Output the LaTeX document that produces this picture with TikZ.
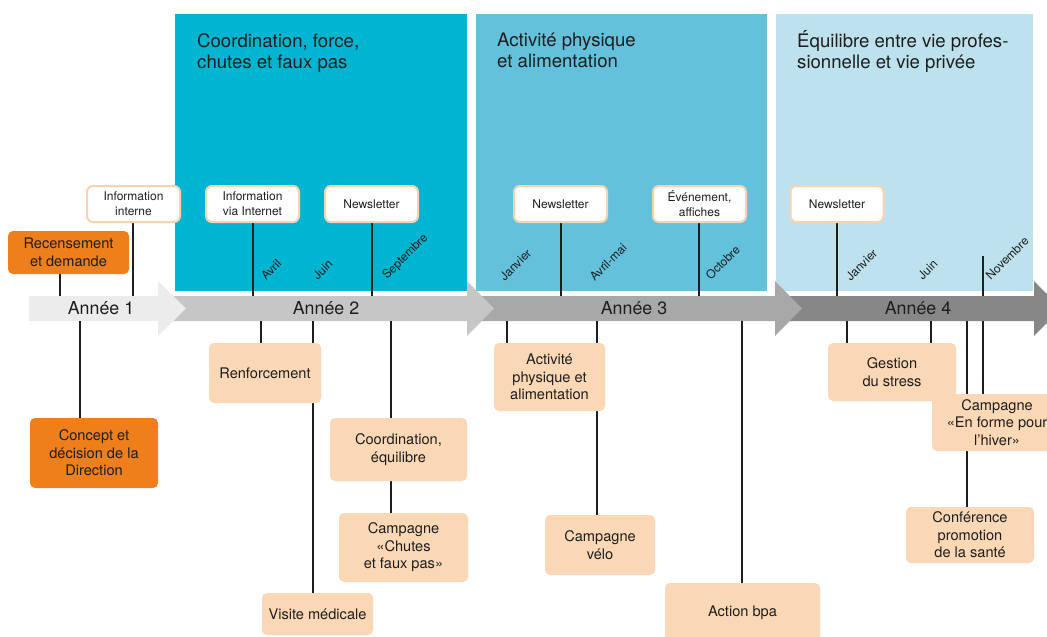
\documentclass[tikz,border=0pt]{standalone}
\usepackage{fontspec}
\setmainfont{TeX Gyre Heros}
\pgfdeclarelayer{bg}
\pgfdeclarelayer{ln}
\pgfsetlayers{bg,ln,main}
\definecolor{pA}{HTML}{00B5D1}
\definecolor{pB}{HTML}{63C1DB}
\definecolor{pC}{HTML}{BDE2ED}
\definecolor{dorange}{HTML}{EE7F1A}
\definecolor{lorange}{HTML}{FAD7B5}
\definecolor{bord}{HTML}{FAD3AD}
\definecolor{gA}{HTML}{ECECEC}
\definecolor{gB}{HTML}{C6C6C6}
\definecolor{gC}{HTML}{A8A8A8}
\definecolor{gD}{HTML}{878787}
\definecolor{txt}{HTML}{1E1E1E}
\tikzset{
  lbox/.style={rectangle, rounded corners=5pt, fill=lorange, text=txt, align=center,
    font=\fontsize{14.6}{17.6}\selectfont, inner sep=0pt},
  obox/.style={lbox, fill=dorange},
  tbox/.style={rectangle, rounded corners=6pt, fill=white, draw=bord, line width=2pt,
    align=center, text=txt, font=\fontsize{12}{15}\selectfont, inner sep=0pt,
    minimum width=93pt, minimum height=36pt},
  month/.style={rotate=45, anchor=south west, inner sep=0pt,
    font=\fontsize{12}{14}\selectfont, text=txt},
  ptitle/.style={anchor=north west, align=left, inner sep=0pt,
    font=\fontsize{18.6}{21}\selectfont, text=txt},
  year/.style={font=\fontsize{17.8}{20}\selectfont, text=txt, inner sep=0pt},
  conn/.style={draw=txt, line width=1.2pt},
}
\begin{document}
\begin{tikzpicture}[x=1pt,y=-1pt]
\clip (0,0) rectangle (1047,637);

\begin{pgfonlayer}{bg}
  \fill[white] (0,0) rectangle (1047,637);
  % theme panels
  \fill[pA] (175,14) rectangle (467,291);
  \fill[pB] (476,14) rectangle (767,291);
  \fill[pC] (776,14) rectangle (1033,291);
  % year arrows
  \fill[gD] (790,296) -- (1034,296) -- (1034,281) -- (1061,308.5) -- (1034,336) -- (1034,321) -- (790,321) -- cycle;
  \fill[gC] (480,296) -- (775,296) -- (775,281) -- (802,308.5) -- (775,336) -- (775,321) -- (480,321) -- cycle;
  \fill[gB] (165,296) -- (467,296) -- (467,281) -- (494,308.5) -- (467,336) -- (467,321) -- (165,321) -- cycle;
  \fill[gA] (29,296) -- (158,296) -- (158,281) -- (186,308.5) -- (158,336) -- (158,321) -- (29,321) -- cycle;
\end{pgfonlayer}

% panel titles
\node[ptitle] (t1) at (197,33) {Coordination, force,\\chutes et faux pas};
\node[ptitle] (t2) at (497,33) {Activité physique\\et alimentation};
\node[ptitle] (t3) at (797,30) {Équilibre entre vie profes-\\sionnelle et vie privée};

% year labels
\node[year] (y1) at (101,308.5) {Année 1};
\node[year] (y2) at (326,308.5) {Année 2};
\node[year] (y3) at (634,308.5) {Année 3};
\node[year] (y4) at (918,308.5) {Année 4};

% month labels
\node[month] (m1) at (266,281) {Avril};
\node[month] (m2) at (318,281) {Juin};
\node[month] (m3) at (389,282) {Septembre};
\node[month] (m4) at (505,282) {Janvier};
\node[month] (m5) at (595,282) {Avril-mai};
\node[month] (m6) at (711,281) {Octobre};
\node[month] (m7) at (851,282) {Janvier};
\node[month] (m8) at (923,281) {Juin};
\node[month] (m9) at (991,281) {Novembre};

% top boxes
\node[obox, minimum width=121pt, minimum height=43pt] (rec) at (68.5,252.5) {Recensement\\et demande};
\node[tbox] (infint) at (133.5,204) {Information\\interne};
\node[tbox] (infnet) at (252.5,204) {Information\\via Internet};
\node[tbox] (news1) at (371.5,204) {Newsletter};
\node[tbox] (news2) at (560.5,204) {Newsletter};
\node[tbox] (evt) at (699.5,204) {Événement,\\affiches};
\node[tbox] (news3) at (837,204) {Newsletter};

% bottom boxes
\node[obox, minimum width=128pt, minimum height=70pt] (concept) at (94,453) {Concept et\\décision de la\\Direction};
\node[lbox, minimum width=112pt, minimum height=60pt] (renf) at (265,373) {Renforcement};
\node[lbox, minimum width=137pt, minimum height=63pt] (coord) at (398.5,449.5) {Coordination,\\équilibre};
\node[lbox, minimum width=129pt, minimum height=69pt] (chutes) at (403.5,547.5) {Campagne\\«Chutes\\et faux pas»};
\node[lbox, minimum width=111pt, minimum height=42pt] (visite) at (317.5,614) {Visite médicale};
\node[lbox, minimum width=111pt, minimum height=68pt] (activ) at (549.5,377) {Activité\\physique et\\alimentation};
\node[lbox, minimum width=110pt, minimum height=60pt] (velo) at (600,545) {Campagne\\vélo};
\node[lbox, minimum width=155pt, minimum height=60pt] (action) at (742.5,613) {Action bpa};
\node[lbox, minimum width=128pt, minimum height=58pt] (gestion) at (892,372) {Gestion\\du stress};
\node[lbox, minimum width=130pt, minimum height=57pt] (forme) at (997,422.5) {Campagne\\«En forme pour\\l’hiver»};
\node[lbox, minimum width=128pt, minimum height=56pt] (conf) at (970,535) {Conférence\\promotion\\de la santé};

% connectors
\coordinate (a1) at (60,296);
\coordinate (a2) at (133,296);
\coordinate (a3) at (253,296);
\coordinate (a4) at (372,296);
\coordinate (a5) at (561,296);
\coordinate (a6) at (699,296);
\coordinate (a7) at (837,296);
\coordinate (a8) at (983,296);
\coordinate (nov) at (983,256);
\coordinate (b1) at (80,321);
\coordinate (b2) at (261,321);
\coordinate (b3) at (313,321);
\coordinate (b4) at (391,321);
\coordinate (b5) at (507,321);
\coordinate (b6) at (597,321);
\coordinate (b7) at (742,321);
\coordinate (b8) at (847,321);
\coordinate (b9) at (931,321);
\coordinate (b10) at (967,321);
\coordinate (b11) at (983,321);
\begin{pgfonlayer}{ln}
  \draw[conn] (a1) -- (a1 |- rec.south);
  \draw[conn] (a2) -- (a2 |- infint.south);
  \draw[conn] (a3) -- (a3 |- infnet.south);
  \draw[conn] (a4) -- (a4 |- news1.south);
  \draw[conn] (a5) -- (a5 |- news2.south);
  \draw[conn] (a6) -- (a6 |- evt.south);
  \draw[conn] (a7) -- (a7 |- news3.south);
  \draw[conn] (a8) -- (nov);
  \draw[conn] (b1) -- (b1 |- concept.north);
  \draw[conn] (b2) -- (b2 |- renf.north);
  \draw[conn] (b3) -- (b3 |- visite.north);
  \draw[conn] (b4) -- (b4 |- coord.north);
  \draw[conn] (b4 |- coord.south) -- (b4 |- chutes.north);
  \draw[conn] (b5) -- (b5 |- activ.north);
  \draw[conn] (b6) -- (b6 |- velo.north);
  \draw[conn] (b7) -- (b7 |- action.north);
  \draw[conn] (b8) -- (b8 |- gestion.north);
  \draw[conn] (b9) -- (b9 |- gestion.north);
  \draw[conn] (b10) -- (b10 |- conf.north);
  \draw[conn] (b11) -- (b11 |- forme.north);
\end{pgfonlayer}
\end{tikzpicture}
\end{document}
